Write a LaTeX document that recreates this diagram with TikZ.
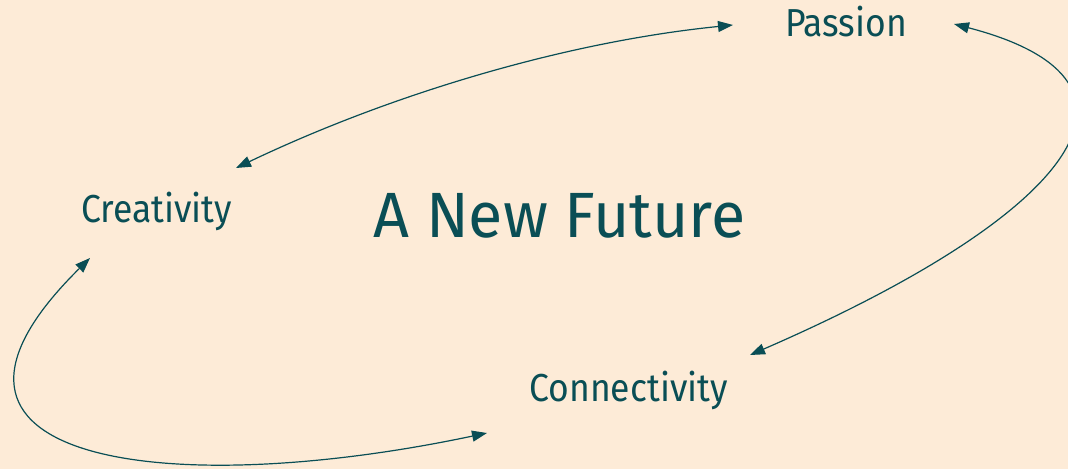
\documentclass[tikz,border=0pt]{standalone}
\usepackage{fontspec}
\setmainfont{Fira Sans}[FakeStretch=0.91]
\newfontfamily\titlefont{Fira Sans}[FakeStretch=0.98]
\usetikzlibrary{arrows.meta}
\definecolor{peach}{HTML}{FDEBD7}
\definecolor{deepteal}{HTML}{0A4E55}
\begin{document}
\begin{tikzpicture}[x=1pt,y=-1pt,
  lbl/.style={text=deepteal,inner sep=0pt,anchor=base,font=\fontsize{39}{44}\selectfont},
  link/.style={draw=deepteal,line width=1.2pt,{Triangle[length=15pt,width=11pt]}-{Triangle[length=15pt,width=11pt]}}]
\fill[peach] (0,0) rectangle (1068,469);
\useasboundingbox (0,0) rectangle (1068,469);
\node[lbl] (passion) at (846,36) {Passion};
\node[lbl] (creativity) at (156.5,222) {Creativity};
\node[lbl] (connectivity) at (628.5,401) {Connectivity};
\node[lbl,font=\titlefont\fontsize{64}{70}\selectfont] (future) at (559.5,237) {A New Future};
% arrow ends
\coordinate (pasL) at (733,25);
\coordinate (pasR) at (954,24);
\coordinate (creU) at (236,168);
\coordinate (creD) at (90,258);
\coordinate (conU) at (750,355);
\coordinate (conL) at (487,433);
\draw[link] (creU) .. controls (389,95) and (564,42) .. (pasL);
\draw[link] (pasR) .. controls (1177,82) and (1072,215) .. (conU);
\draw[link] (creD) .. controls (-120,465) and (170,500) .. (conL);
\end{tikzpicture}
\end{document}
